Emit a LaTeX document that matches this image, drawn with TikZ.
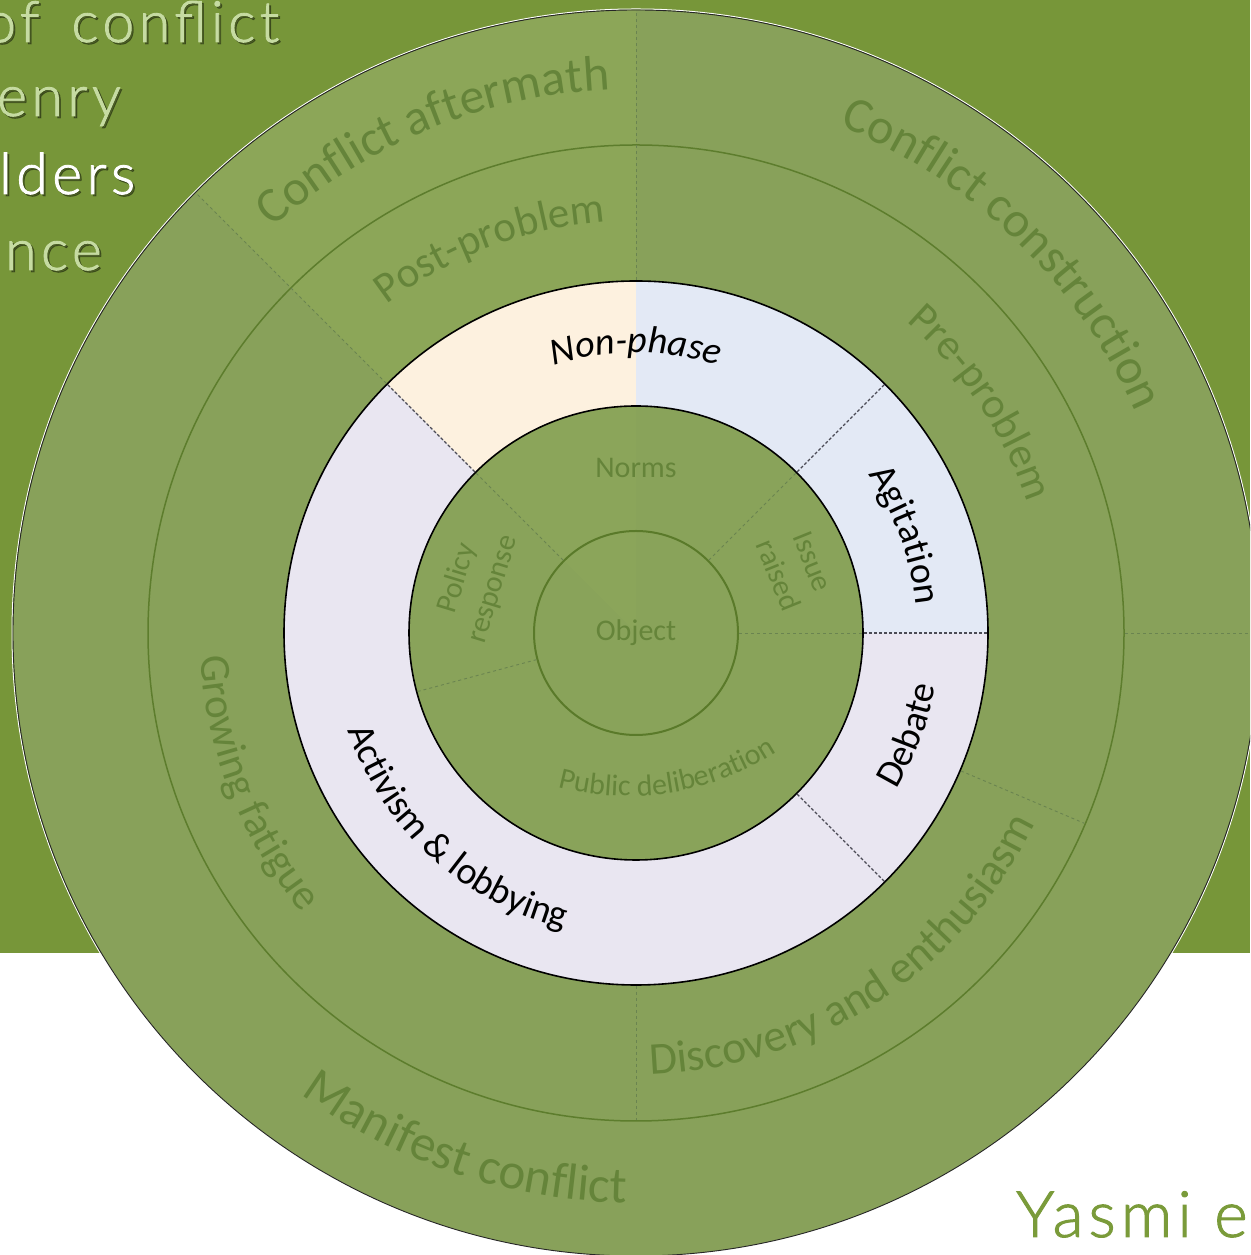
\documentclass[tikz,border=0pt]{standalone}
\usepackage{fontspec}
\setmainfont{Carlito}
\newfontfamily\calfont{Carlito}
\newfontfamily\thinfont[LetterSpace=8,FakeBold=1.5]{Lato Light}
\usetikzlibrary{decorations.text,calc}
\definecolor{bgdark}{HTML}{779639}
\definecolor{ringgreen}{HTML}{88A15A}
\definecolor{wedgegreen}{HTML}{8CA658}
\definecolor{innergreen}{HTML}{89A35A}
\definecolor{wedgeinner}{HTML}{8BA55A}
\definecolor{ringline}{HTML}{5D7D2D}
\definecolor{innerline}{HTML}{5A7A2A}
\definecolor{lblgreen}{HTML}{65843A}
\definecolor{cream}{HTML}{FDF1DF}
\definecolor{lblue}{HTML}{E3E9F5}
\definecolor{lavender}{HTML}{E9E6F1}
\definecolor{titlegreen}{HTML}{C6DBA2}
\definecolor{yasmigreen}{HTML}{7A9B3A}
\definecolor{dashgreen}{HTML}{6A8450}
\definecolor{dashdark}{HTML}{4A4A55}
\newcommand\fOuter{\calfont\fontsize{50}{50}\selectfont}
\newcommand\fOuterL{\calfont\fontsize{51}{51}\selectfont}
\newcommand\fMid{\calfont\fontsize{43}{43}\selectfont}
\newcommand\fMidL{\calfont\fontsize{45.5}{45.5}\selectfont}
\newcommand\fWhite{\calfont\fontsize{38}{38}\selectfont}
\newcommand\fWhiteIt{\calfont\itshape\fontsize{38}{38}\selectfont}
\newcommand\fInner{\calfont\fontsize{30}{30}\selectfont}
% annular sector: colour, inner r, outer r, start angle, end angle
\newcommand\annsector[5]{\fill[#1] ($(C)+(#4:#3)$) arc[start angle=#4,end angle=#5,radius=#3pt] -- ($(C)+(#5:#2)$) arc[start angle=#5,end angle=#4,radius=#2pt] -- cycle;}
% radial divider: style, angle, r1, r2
\newcommand\raddivider[4]{\draw[#1] ($(C)+(#2:#3)$) -- ($(C)+(#2:#4)$);}
% curved text, tops outward (clockwise path)
\newcommand\toparc[6]{\pgfmathsetmacro\myStartA{#2+70}\pgfmathsetmacro\myEndA{#2-70}%
\path[decorate,decoration={text along path,text align=center,text color=#5,text={|#4|#6}}] ($(#1)+(\myStartA:#3)$) arc[start angle=\myStartA,end angle=\myEndA,radius=#3pt];}
% curved text, tops inward (counter-clockwise path)
\newcommand\botarc[6]{\pgfmathsetmacro\myStartA{#2-70}\pgfmathsetmacro\myEndA{#2+70}%
\path[decorate,decoration={text along path,text align=center,text color=#5,text={|#4|#6}}] ($(#1)+(\myStartA:#3)$) arc[start angle=\myStartA,end angle=\myEndA,radius=#3pt];}
\tikzset{
  greendash/.style={draw=dashgreen,line width=0.9pt,dash pattern=on 3pt off 3pt},
  darkdash/.style={draw=dashdark,line width=1.2pt,dash pattern=on 3pt off 2pt},
  titletext/.style={font=\thinfont\fontsize{57}{57}\selectfont,anchor=base west,inner sep=0pt},
  shadowtext/.style={titletext,text=black,opacity=0.35},
  innerlbl/.style={font=\calfont\fontsize{30}{37}\selectfont,text=lblgreen,align=center,inner sep=0pt}
}
\begin{document}
\begin{tikzpicture}[x=1pt,y=1pt]
\useasboundingbox (0,0) rectangle (1250,1255);
\clip (0,0) rectangle (1250,1255);
\fill[white] (0,0) rectangle (1250,1255);
\fill[bgdark] (0,302) rectangle (1250,1255);
\coordinate (C) at (636,622);
\coordinate (C2) at (628,735);
% titles (cut at the left edge)
\node[shadowtext] (s1) at (-14,1211) {of\hspace{12pt} conflict};
\node[titletext,text=titlegreen] (t1) at (-16,1213) {of\hspace{12pt} conflict};
\node[shadowtext] (s2) at (-1,1137) {enry};
\node[titletext,text=titlegreen] (t2) at (-3,1139) {enry};
\node[shadowtext] (s3) at (1,1059) {lders};
\node[titletext,text=white] (t3) at (-1,1061) {lders};
\node[shadowtext] (s4) at (7,983) {nce};
\node[titletext,text=titlegreen] (t4) at (5,985) {nce};
% main disc
\fill[ringgreen] (C) circle[radius=623pt];
\fill[wedgegreen] (C) -- ($(C)+(90:623)$) arc[start angle=90,end angle=135,radius=623pt] -- cycle;
\fill[innergreen] (C) circle[radius=227pt];
\fill[wedgeinner] (C) -- ($(C)+(90:227)$) arc[start angle=90,end angle=135,radius=227pt] -- cycle;
% white ring
\annsector{cream}{227}{352}{90}{135}
\annsector{lblue}{227}{352}{0}{90}
\annsector{lavender}{227}{352}{135}{360}
% circle lines
\draw[ringline,line width=1.5pt] (C) circle[radius=488pt];
\draw[black,line width=1.6pt] (C) circle[radius=352pt];
\draw[black,line width=1.6pt] (C) circle[radius=227pt];
\draw[innerline,line width=2pt] (C) circle[radius=102pt];
\draw[white,line width=1pt] (C) circle[radius=624pt];
\draw[black!85,line width=0.9pt] (C) circle[radius=623pt];
% dividers
\raddivider{greendash}{135}{353}{622}
\raddivider{greendash}{90}{353}{622}
\raddivider{greendash}{0}{489}{622}
\raddivider{greendash}{-23}{353}{487}
\raddivider{greendash}{270}{353}{487}
\raddivider{darkdash}{135}{228}{351}
\raddivider{darkdash}{45}{228}{351}
\raddivider{darkdash}{0}{228}{351}
\raddivider{darkdash}{-45}{228}{351}
\raddivider{greendash}{135}{103}{226}
\raddivider{greendash}{45}{103}{226}
\raddivider{greendash}{0}{103}{226}
\raddivider{greendash}{195}{103}{226}
% outer ring labels
\toparc{C}{112.3}{544}{\fOuter}{lblgreen}{Conflict aftermath}
\toparc{C}{46}{546}{\fOuter}{lblgreen}{Conflict construction}
\botarc{C}{251.5}{570}{\fOuterL}{lblgreen}{Manifest conflict}
% second ring labels
\toparc{C}{110.7}{412}{\fMid}{lblgreen}{Post-problem}
\toparc{C}{33.7}{412}{\fMid}{lblgreen}{Pre-problem}
\botarc{C}{-56.8}{442}{\fMidL}{lblgreen}{Discovery and enthusiasm}
\botarc{C}{201.5}{436}{\fMid}{lblgreen}{Growing fatigue}
% white ring labels
\toparc{C}{90}{280}{\fWhiteIt}{black}{Non-phase}
\toparc{C}{20}{281}{\fWhite}{black}{Agitation}
\botarc{C}{-20.5}{304}{\fWhite}{black}{Debate}
\botarc{C}{227.5}{304}{\fWhite}{black}{Activism {\&} lobbying}
% inner labels
\node[innerlbl] (norms) at ($(C)+(90:165)$) {Norms};
\node[innerlbl] (object) at (C) {Object};
\node[innerlbl,rotate=-68] (issue) at ($(C)+(22:172)$) {Issue\\raised};
\node[innerlbl,rotate=73] (policy) at ($(C)+(163:168)$) {Policy\\response};
\botarc{C2}{-81}{276}{\fInner}{lblgreen}{Public deliberation}
% author
\node[anchor=base west,inner sep=0pt,font=\thinfont\fontsize{64}{64}\selectfont,text=yasmigreen] (yasmi) at (1016,18) {Yasmi e};
\end{tikzpicture}
\end{document}
